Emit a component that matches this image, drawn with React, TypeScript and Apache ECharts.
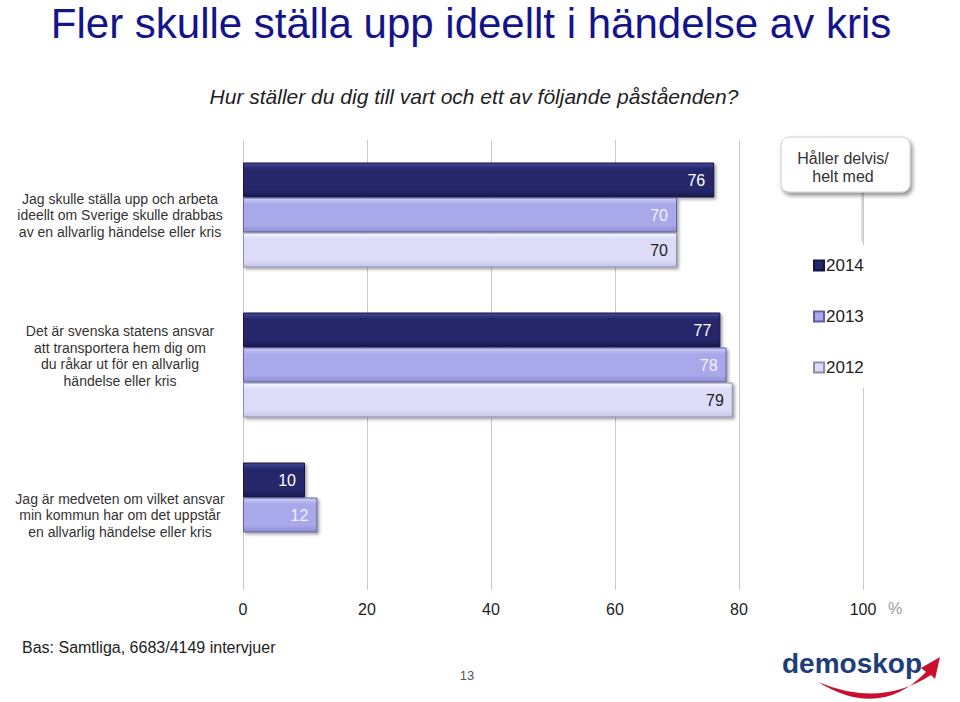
import React, { useEffect, useRef } from "react";
import * as echarts from "echarts";

const categories = [
  "Jag skulle ställa upp och arbeta\nideellt om Sverige skulle drabbas\nav en allvarlig händelse eller kris",
  "Det är svenska statens ansvar\natt transportera hem dig om\ndu råkar ut för en allvarlig\nhändelse eller kris",
  "Jag är medveten om vilket ansvar\nmin kommun har om det uppstår\nen allvarlig händelse eller kris",
];
const years = ["2014", "2013", "2012"];
const values2014 = [76, 77, 10];
const values2013 = [70, 78, 12];
const values2012: (number | null)[] = [70, 79, null];
const xTicks = [0, 20, 40, 60, 80, 100];

const FONT = "'Liberation Sans', Arial, sans-serif";

function grad(top: string, main: string, bottom: string) {
  return {
    type: "linear",
    x: 0,
    y: 0,
    x2: 0,
    y2: 1,
    colorStops: [
      { offset: 0, color: top },
      { offset: 0.18, color: main },
      { offset: 0.8, color: main },
      { offset: 1, color: bottom },
    ],
  };
}

const barStyles = [
  { fill: grad("#44479a", "#25276b", "#17194f"), border: "#13153d", label: "#ffffff" },
  { fill: grad("#cfcff8", "#a8a8ea", "#8c8cd0"), border: "#5e5ea4", label: "#f2f2ff" },
  { fill: grad("#f8f8ff", "#dcdcf8", "#c4c4e6"), border: "#8e8eae", label: "#222222" },
];

export default function App() {
  const ref = useRef<HTMLDivElement>(null);
  useEffect(() => {
    if (!ref.current) return;
    echarts.graphic.registerShape(
      "swoosh",
      echarts.graphic.extendPath(
        "M0,0 Q62,38 108,-10 L103,-14 L122,-25 L117,-3 L113,-7 Q62,26 0,0 Z",
        {}
      )
    );
    const chart = echarts.init(ref.current, null, { renderer: "svg" });
    const seriesData = [values2014, values2013, values2012];
    const option: any = {
      animation: false,
      backgroundColor: "#ffffff",
      textStyle: { fontFamily: FONT },
      grid: { left: 243, right: 97, top: 140, bottom: 112, containLabel: false },
      legend: {
        orient: "vertical",
        left: 800,
        top: 245,
        padding: [12, 14, 12, 13],
        backgroundColor: "#ffffff",
        itemGap: 34,
        itemWidth: 10,
        itemHeight: 10,
        icon: "rect",
        selectedMode: false,
        data: years,
        z: 5,
        textStyle: { fontSize: 17, color: "#222", fontFamily: FONT, padding: [0, 0, 0, -3] },
      },
      xAxis: {
        type: "value",
        min: 0,
        max: 100,
        interval: 20,
        axisLine: { show: false },
        axisTick: { show: false },
        splitLine: { show: true, lineStyle: { color: "#c8c8c8", width: 1 } },
        axisLabel: {
          fontSize: 16,
          color: "#222",
          margin: 11,
          fontFamily: FONT,
          formatter: (v: number) => (xTicks.includes(v) ? String(v) : ""),
        },
      },
      yAxis: {
        type: "category",
        data: categories,
        inverse: true,
        axisLine: { show: false },
        axisTick: { show: false },
        axisLabel: {
          align: "center",
          margin: 123,
          fontSize: 14,
          lineHeight: 16.5,
          color: "#333",
          fontFamily: FONT,
          formatter: (v: string, i: number) => (i === 1 ? "{g2|" + v + "}" : v),
          rich: {
            g2: {
              fontSize: 14,
              lineHeight: 16.5,
              color: "#333",
              fontFamily: FONT,
              align: "center",
              padding: [0, 0, 18, 0],
            },
          },
        },
      },
      series: years.map((y, i) => ({
        name: y,
        type: "bar",
        data: seriesData[i],
        barCategoryGap: "30%",
        barGap: "0%",
        itemStyle: {
          color: barStyles[i].fill,
          borderColor: barStyles[i].border,
          borderWidth: 1,
          shadowColor: "rgba(0,0,0,0.35)",
          shadowBlur: 3,
          shadowOffsetX: 2,
          shadowOffsetY: 2,
        },
        label: {
          show: true,
          position: "insideRight",
          distance: 9,
          fontSize: 16,
          color: barStyles[i].label,
          fontFamily: FONT,
        },
      })),
      graphic: [
        {
          type: "text",
          x: 471,
          y: 23,
          style: {
            text: "Fler skulle ställa upp ideellt i händelse av kris",
            font: "42px " + FONT,
            fill: "#14148a",
            align: "center",
            verticalAlign: "middle",
          },
        },
        {
          type: "text",
          x: 474,
          y: 96,
          style: {
            text: "Hur ställer du dig till vart och ett av följande påståenden?",
            font: "italic 21px " + FONT,
            fill: "#222",
            align: "center",
            verticalAlign: "middle",
          },
        },
        {
          type: "line",
          z: 10,
          shape: { x1: 862, y1: 192, x2: 862, y2: 242 },
          style: { stroke: "#bbbbbb", lineWidth: 1 },
        },
        {
          type: "rect",
          z: 10,
          shape: { x: 781, y: 137, width: 129, height: 55, r: 8 },
          style: {
            fill: "#ffffff",
            stroke: "#cfcfcf",
            lineWidth: 1,
            shadowColor: "rgba(0,0,0,0.45)",
            shadowBlur: 4,
            shadowOffsetX: 2,
            shadowOffsetY: 3,
          },
        },
        {
          type: "text",
          z: 11,
          x: 843,
          y: 167,
          style: {
            text: "Håller delvis/\nhelt med",
            font: "16px " + FONT,
            lineHeight: 18,
            fill: "#333",
            align: "center",
            verticalAlign: "middle",
          },
        },
        {
          type: "text",
          x: 888,
          y: 608,
          style: {
            text: "%",
            font: "16px " + FONT,
            fill: "#9a9a9a",
            verticalAlign: "middle",
          },
        },
        {
          type: "text",
          x: 22,
          y: 647,
          style: {
            text: "Bas: Samtliga, 6683/4149 intervjuer",
            font: "16px " + FONT,
            fill: "#222",
            verticalAlign: "middle",
          },
        },
        {
          type: "text",
          x: 467,
          y: 675,
          style: {
            text: "13",
            font: "13px " + FONT,
            fill: "#555",
            align: "center",
            verticalAlign: "middle",
          },
        },
        {
          type: "text",
          x: 782,
          y: 663,
          style: {
            text: "demoskop",
            font: "bold 28px " + FONT,
            fill: "#1f3d7a",
            verticalAlign: "middle",
          },
        },
        {
          type: "swoosh",
          x: 818,
          y: 682,
          style: { fill: "#c8102e" },
        },
      ],
    };
    chart.setOption(option);
    return () => chart.dispose();
  }, []);
  return (
    <div
      ref={ref}
      style={{ position: "absolute", left: 0, top: 0, width: 960, height: 702 }}
    />
  );
}
